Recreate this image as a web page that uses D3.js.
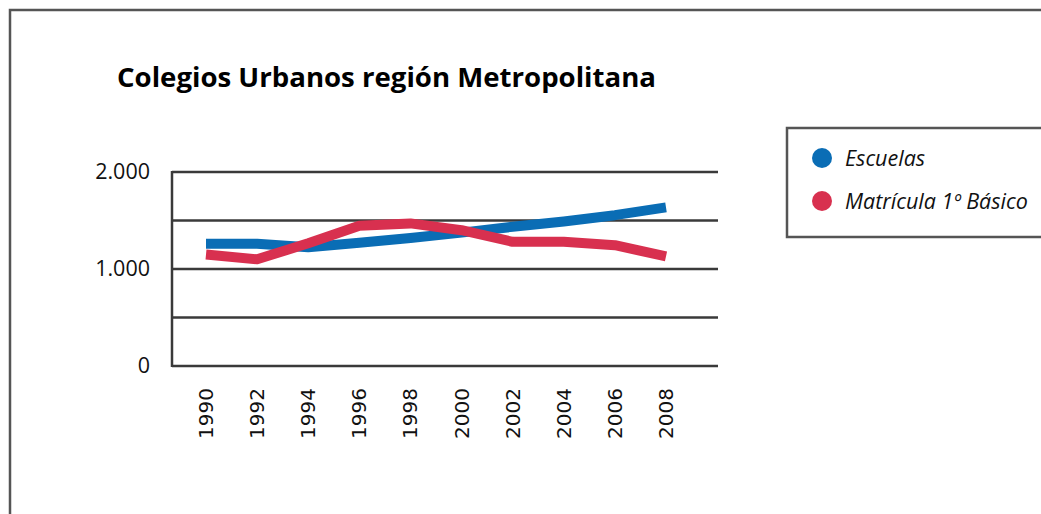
<!DOCTYPE html>
<html lang="es">
<meta charset="utf-8">
<style>
body { margin: 0; background: #fff; }
text { font-family: "Open Sans", sans-serif; }
.grid line { stroke: #3a3a3a; stroke-width: 2.5; }
</style>
<body>
<svg width="1041" height="514"></svg>
<script src="https://d3js.org/d3.v7.min.js"></script>
<script>

var years = [1990, 1992, 1994, 1996, 1998, 2000, 2002, 2004, 2006, 2008];
var escuelas = [1260, 1260, 1225, 1270, 1320, 1375, 1435, 1490, 1555, 1635];
var matricula = [1150, 1100, 1265, 1445, 1470, 1400, 1280, 1280, 1245, 1130];
var gridValues = [0, 500, 1000, 1500, 2000];
var labelValues = [0, 1000, 2000];
var seriesNames = ["Escuelas", "Matrícula 1º Básico"];
var seriesColors = ["#0a6db5", "#d8304f"];

var svg = d3.select("svg");

// outer frame
svg.append("rect")
    .attr("x", 10).attr("y", 10)
    .attr("width", 1060).attr("height", 540)
    .attr("fill", "none").attr("stroke", "#555").attr("stroke-width", 2.5);

svg.append("text")
    .attr("x", 117).attr("y", 87)
    .attr("font-size", 27.6).attr("font-weight", "bold")
    .text("Colegios Urbanos región Metropolitana");

var x = d3.scalePoint().domain(years).range([206, 666]);
var y = d3.scaleLinear().domain([0, 2000]).range([366, 172]);

var grid = svg.append("g").attr("class", "grid");
grid.selectAll("line").data(gridValues).enter().append("line")
    .attr("x1", 172).attr("x2", 718)
    .attr("y1", function(d) { return y(d); })
    .attr("y2", function(d) { return y(d); });
grid.append("line")
    .attr("x1", 172).attr("x2", 172)
    .attr("y1", y(2000) - 1).attr("y2", y(0) + 1);

svg.selectAll(".ylab").data(labelValues).enter().append("text")
    .attr("class", "ylab")
    .attr("x", 150).attr("y", function(d) { return y(d) + 7; })
    .attr("text-anchor", "end").attr("font-size", 21.5).attr("fill", "#111")
    .text(function(d) { return d3.format(",")(d).replace(",", "."); });

svg.selectAll(".xlab").data(years).enter().append("text")
    .attr("class", "xlab")
    .attr("transform", function(d) { return "translate(" + (x(d) + 7) + ",388) rotate(-90)"; })
    .attr("text-anchor", "end").attr("font-size", 20).attr("fill", "#111")
    .style("font-family", "'DejaVu Sans', sans-serif")
    .text(function(d) { return d; });

var line = d3.line()
    .x(function(d, i) { return x(years[i]); })
    .y(function(d) { return y(d); });

[escuelas, matricula].forEach(function(s, i) {
  svg.append("path")
      .datum(s)
      .attr("d", line)
      .attr("fill", "none")
      .attr("stroke", seriesColors[i])
      .attr("stroke-width", 10)
      .attr("stroke-linejoin", "round");
});

// legend
var legend = svg.append("g");
legend.append("rect")
    .attr("x", 787).attr("y", 128).attr("width", 270).attr("height", 109)
    .attr("fill", "#fff").attr("stroke", "#555").attr("stroke-width", 2.5);
seriesNames.forEach(function(n, i) {
  legend.append("circle")
      .attr("cx", 822).attr("cy", 158 + i * 43).attr("r", 10)
      .attr("fill", seriesColors[i]);
  legend.append("text")
      .attr("x", 845).attr("y", 166 + i * 43)
      .attr("font-size", 21.5).attr("font-style", "italic").attr("fill", "#111")
      .text(n);
});

</script>
</body>
</html>
